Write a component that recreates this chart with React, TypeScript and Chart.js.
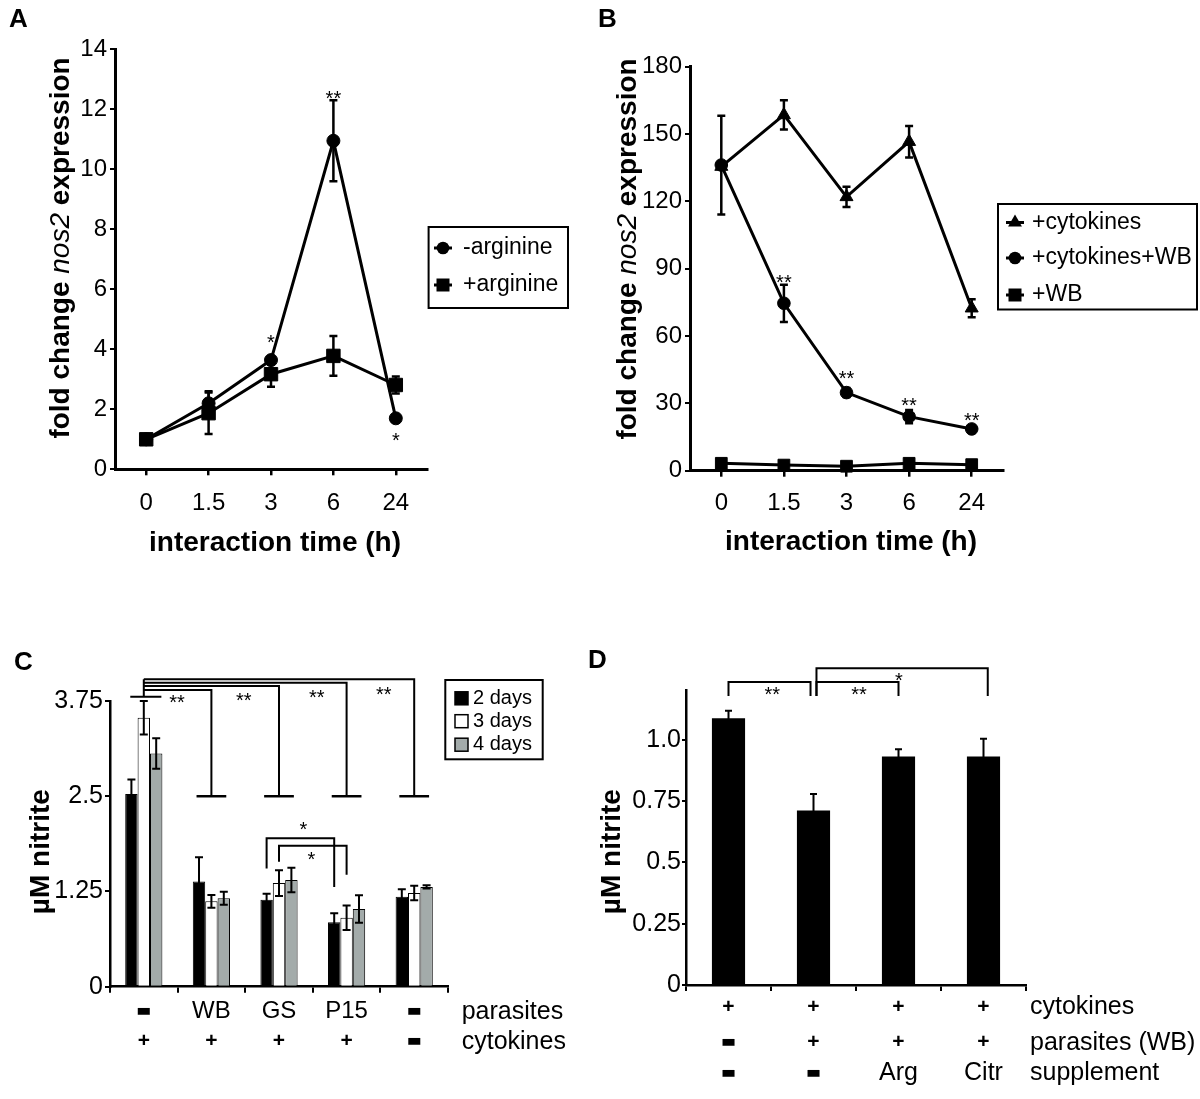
import React, { useEffect, useRef } from 'react';
import { Chart, registerables } from 'chart.js';

Chart.register(...registerables);

const FONT = '"Liberation Sans", Arial, Helvetica, sans-serif';
Chart.defaults.font.family = FONT;
Chart.defaults.color = '#000';

// ---------------- Panel A data ----------------
const timeLabels = ['0', '1.5', '3', '6', '24'];
const minusArginine = [1.0, 2.2, 3.64, 10.95, 1.7];
const minusArginineErr = [0, 0.4, 0.1, 1.35, 0.1];
const plusArginine = [1.0, 1.87, 3.17, 3.78, 2.81];
const plusArginineErr = [0, 0.69, 0.42, 0.66, 0.28];
const aStars = [
  { x: 2, y: 4.38, text: '*' },
  { x: 3, y: 12.54, text: '**' },
  { x: 4, y: 1.14, text: '*' },
];

// ---------------- Panel B data ----------------
const cytokinesOnly = [135.5, 158.5, 122, 146.6, 72.4];
const cytokinesOnlyErr = [0, 6.5, 4.5, 7, 4];
const cytokinesWB = [136.2, 74.6, 34.8, 24.1, 18.6];
const cytokinesWBErr = [22, 8.3, 2, 3, 1.5];
const wbOnly = [3.3, 2.5, 2.0, 3.3, 2.7];
const bStars = [
  { x: 1, y: 86.3, text: '**' },
  { x: 2, y: 43.5, text: '**' },
  { x: 3, y: 31.5, text: '**' },
  { x: 4, y: 24.8, text: '**' },
];

// ---------------- Panel C data ----------------
const cParasites = ['-', 'WB', 'GS', 'P15', '-'];
const cCytokines = ['+', '+', '+', '+', '-'];
const cRowNames = ['parasites', 'cytokines'];
const day2 = [2.53, 1.38, 1.14, 0.845, 1.18];
const day2Err = [0.19, 0.32, 0.08, 0.12, 0.1];
const day3 = [3.53, 1.12, 1.36, 0.905, 1.23];
const day3Err = [0.22, 0.085, 0.17, 0.16, 0.095];
const day4 = [3.06, 1.16, 1.4, 1.02, 1.31];
const day4Err = [0.2, 0.085, 0.16, 0.18, 0.02];
const cCompareTargets = [1, 2, 3, 4];
const cCompareLevels = [3.894, 3.946, 3.99, 4.034];
const cCompareCapValue = 2.5;
const cRootLevel = 3.806;
const cCompareStars = [
  { x: 0.49, y: 3.79 },
  { x: 1.48, y: 3.82 },
  { x: 2.56, y: 3.86 },
  { x: 3.55, y: 3.9 },
];
const cStarBrackets = [
  { fromDs: 0, fromIdx: 2, toDs: 0, toIdx: 3, level: 1.95, dropFrom: 1.55, dropTo: 1.31, starX: 2.36, starY: 2.135 },
  { fromDs: 1, fromIdx: 2, toDs: 1, toIdx: 3, level: 1.85, dropFrom: 1.64, dropTo: 1.47, starX: 2.48, starY: 1.73 },
];

// ---------------- Panel D data ----------------
const dCytokines = ['+', '+', '+', '+'];
const dParasites = ['-', '+', '+', '+'];
const dSupplement = ['-', '-', 'Arg', 'Citr'];
const dRowNames = ['cytokines', 'parasites (WB)', 'supplement'];
const dNitrite = [1.088, 0.712, 0.932, 0.932];
const dNitriteErr = [0.03, 0.067, 0.029, 0.072];
const dBrackets = [
  { x1: 0, x2: 0.965, level: 1.235, drop: 1.178, text: '**', sx: 0.515, sy: 1.205 },
  { x1: 1.035, x2: 2, level: 1.235, drop: 1.178, text: '**', sx: 1.535, sy: 1.205 },
  { x1: 1.035, x2: 3.05, level: 1.292, drop: 1.178, text: '*', sx: 2.005, sy: 1.262 },
];

// ---------------- helpers ----------------
const errorBars = {
  id: 'errorBars',
  afterDatasetsDraw(chart: any) {
    const ctx = chart.ctx;
    const ys = chart.scales.y;
    chart.data.datasets.forEach((ds: any, di: number) => {
      if (!ds.errors) return;
      const meta = chart.getDatasetMeta(di);
      const cap = ds.errorCap ?? 4;
      ctx.save();
      ctx.strokeStyle = '#000';
      ctx.lineWidth = ds.errorLineWidth ?? 2;
      meta.data.forEach((el: any, i: number) => {
        const e = ds.errors[i];
        if (!e) return;
        const v = ds.data[i];
        const t = ys.getPixelForValue(v + e);
        const b = ys.getPixelForValue(v - e);
        ctx.beginPath();
        ctx.moveTo(el.x, t);
        ctx.lineTo(el.x, b);
        ctx.moveTo(el.x - cap, t);
        ctx.lineTo(el.x + cap, t);
        ctx.moveTo(el.x - cap, b);
        ctx.lineTo(el.x + cap, b);
        ctx.stroke();
      });
      ctx.restore();
    });
  },
};

function drawStar(ctx: any, text: string, x: number, yc: number) {
  ctx.save();
  ctx.fillStyle = '#000';
  ctx.font = `20px ${FONT}`;
  ctx.textAlign = 'center';
  ctx.textBaseline = 'alphabetic';
  ctx.fillText(text, x, yc + 11.5);
  ctx.restore();
}

function drawText(ctx: any, text: string, x: number, y: number, font: string, align = 'center') {
  ctx.save();
  ctx.fillStyle = '#000';
  ctx.font = font;
  ctx.textAlign = align;
  ctx.textBaseline = 'middle';
  ctx.fillText(text, x, y);
  ctx.restore();
}

function drawParts(ctx: any, parts: { text: string; font: string }[], cx: number, cy: number, rotate: boolean) {
  ctx.save();
  ctx.fillStyle = '#000';
  ctx.translate(cx, cy);
  if (rotate) ctx.rotate(-Math.PI / 2);
  let total = 0;
  parts.forEach((p) => {
    ctx.font = p.font;
    total += ctx.measureText(p.text).width;
  });
  let x = -total / 2;
  ctx.textAlign = 'left';
  ctx.textBaseline = 'middle';
  parts.forEach((p) => {
    ctx.font = p.font;
    ctx.fillText(p.text, x, 0);
    x += ctx.measureText(p.text).width;
  });
  ctx.restore();
}

function drawDash(ctx: any, x: number, y: number) {
  ctx.save();
  ctx.fillStyle = '#000';
  ctx.translate(x, y);
  ctx.scale(1, 2.6);
  ctx.font = `bold 24px ${FONT}`;
  ctx.textAlign = 'center';
  ctx.textBaseline = 'alphabetic';
  ctx.fillText('\u2212', 0, 7.9);
  ctx.restore();
}

function drawRowLabel(ctx: any, s: string, x: number, y: number) {
  if (s === '-') drawDash(ctx, x, y);
  else if (s === '+') drawText(ctx, '+', x, y, `bold 21px ${FONT}`);
  else drawText(ctx, s, x, y, `24px ${FONT}`);
}

function drawMarker(ctx: any, style: string, x: number, y: number) {
  ctx.save();
  ctx.fillStyle = '#000';
  ctx.strokeStyle = '#000';
  ctx.lineWidth = 3;
  ctx.beginPath();
  ctx.moveTo(x - 9, y);
  ctx.lineTo(x + 9, y);
  ctx.stroke();
  ctx.beginPath();
  if (style === 'circle') ctx.arc(x, y, 6.3, 0, Math.PI * 2);
  else if (style === 'rect') ctx.rect(x - 6.5, y - 6.5, 13, 13);
  else {
    const r = 8;
    ctx.moveTo(x, y - r);
    ctx.lineTo(x + r * 0.866, y + r / 2);
    ctx.lineTo(x - r * 0.866, y + r / 2);
    ctx.closePath();
  }
  ctx.fill();
  ctx.restore();
}

function drawBox(ctx: any, x1: number, y1: number, x2: number, y2: number) {
  ctx.save();
  ctx.strokeStyle = '#000';
  ctx.lineWidth = 2;
  ctx.strokeRect(x1, y1, x2 - x1, y2 - y1);
  ctx.restore();
}

function lineLegend(chart: any, box: number[], rows: number[], mx: number, tx: number) {
  const ctx = chart.ctx;
  drawBox(ctx, box[0], box[1], box[2], box[3]);
  chart.data.datasets.forEach((ds: any, i: number) => {
    drawMarker(ctx, ds.pointStyle, mx, rows[i]);
    drawText(ctx, ds.label, tx, rows[i], `23px ${FONT}`, 'left');
  });
}

const nosTitle = [
  { text: 'fold change ', font: `bold 28px ${FONT}` },
  { text: 'nos2', font: `italic 28px ${FONT}` },
  { text: ' expression', font: `bold 28px ${FONT}` },
];

const common = {
  responsive: false,
  maintainAspectRatio: false,
  animation: false,
  devicePixelRatio: 1,
  events: [],
  plugins: { legend: { display: false }, tooltip: { enabled: false } },
};

function yAxis(min: number, max: number, step: number, size: number, tl: number, pad: number, width: number, bw: number, fmt: (v: number) => string) {
  return {
    type: 'linear',
    min,
    max,
    ticks: { stepSize: step, color: '#000', font: { family: FONT, size, lineHeight: 1 }, padding: pad, includeBounds: false, callback: (v: any) => fmt(Number(v)) },
    grid: { display: true, drawOnChartArea: false, drawTicks: true, tickLength: tl, color: '#000', lineWidth: 2 },
    border: { display: true, color: '#000', width: bw },
    afterFit: (s: any) => {
      s.width = width;
    },
  };
}

function xLineAxis(pad: number) {
  return {
    type: 'category',
    offset: true,
    grid: { display: true, drawOnChartArea: false, offset: false, drawTicks: true, tickLength: 6, color: '#000', lineWidth: 2.5 },
    border: { display: true, color: '#000', width: 3 },
    ticks: { color: '#000', font: { family: FONT, size: 24, lineHeight: 1 }, padding: pad, autoSkip: false, maxRotation: 0 },
    afterFit: (s: any) => {
      s.height = 60;
    },
  };
}

function xBarAxis() {
  return {
    type: 'category',
    offset: true,
    grid: { display: true, drawOnChartArea: false, offset: true, drawTicks: true, tickLength: 6, color: '#000', lineWidth: 2 },
    border: { display: true, color: '#000', width: 2.5 },
    ticks: { display: false },
    afterFit: (s: any) => {
      s.height = 60;
    },
  };
}

const lineStyle = {
  borderColor: '#000',
  backgroundColor: '#000',
  pointBackgroundColor: '#000',
  pointBorderColor: '#000',
  borderWidth: 3,
  pointBorderWidth: 1,
  tension: 0,
  fill: false,
  clip: false,
  errorLineWidth: 2.5,
  errorCap: 4,
};

// ---------------- Panel A ----------------
function drawA(chart: any) {
  const ctx = chart.ctx;
  const xs = chart.scales.x;
  const ys = chart.scales.y;
  aStars.forEach((s) => drawStar(ctx, s.text, xs.getPixelForValue(s.x), ys.getPixelForValue(s.y)));
  drawParts(ctx, nosTitle, 61, 248, true);
  drawText(ctx, 'interaction time (h)', 275, 543, `bold 28px ${FONT}`);
  lineLegend(chart, [428.6, 227, 568, 308], [248, 285], 443, 463);
}

function makeA(): any {
  return {
    type: 'line',
    data: {
      labels: timeLabels,
      datasets: [
        { label: '-arginine', data: minusArginine, errors: minusArginineErr, pointStyle: 'circle', pointRadius: 6.5, ...lineStyle },
        { label: '+arginine', data: plusArginine, errors: plusArginineErr, pointStyle: 'rect', pointRadius: 9.5, ...lineStyle },
      ],
    },
    options: {
      ...common,
      layout: { padding: { left: 0, top: 49.3, right: 173, bottom: 30.7 } },
      scales: {
        x: xLineAxis(15.7),
        y: yAxis(0, 14, 2, 24, 5, 3, 115, 3, (v) => String(v)),
      },
    },
    plugins: [errorBars, { id: 'annotA', afterDraw: drawA }],
  };
}

// ---------------- Panel B ----------------
function drawB(chart: any) {
  const ctx = chart.ctx;
  const xs = chart.scales.x;
  const ys = chart.scales.y;
  bStars.forEach((s) => drawStar(ctx, s.text, xs.getPixelForValue(s.x), ys.getPixelForValue(s.y)));
  drawParts(ctx, nosTitle, 28, 249, true);
  drawText(ctx, 'interaction time (h)', 251, 542, `bold 28px ${FONT}`);
  lineLegend(chart, [398, 204, 597, 309.5], [222.5, 258, 295], 415, 432);
}

function makeB(): any {
  return {
    type: 'line',
    data: {
      labels: timeLabels,
      datasets: [
        { label: '+cytokines', data: cytokinesOnly, errors: cytokinesOnlyErr, pointStyle: 'triangle', pointRadius: 7.5, ...lineStyle },
        { label: '+cytokines+WB', data: cytokinesWB, errors: cytokinesWBErr, pointStyle: 'circle', pointRadius: 6.3, ...lineStyle },
        { label: '+WB', data: wbOnly, pointStyle: 'rect', pointRadius: 8.3, ...lineStyle },
      ],
    },
    options: {
      ...common,
      layout: { padding: { left: 0, top: 66.7, right: 197, bottom: 29.3 } },
      scales: {
        x: xLineAxis(14.6),
        y: yAxis(0, 180, 30, 24, 5, 3, 90, 3, (v) => String(v)),
      },
    },
    plugins: [errorBars, { id: 'annotB', afterDraw: drawB }],
  };
}

// ---------------- Panel C ----------------
function drawC(chart: any) {
  const ctx = chart.ctx;
  const xs = chart.scales.x;
  const ys = chart.scales.y;
  const X = (v: number) => xs.getPixelForValue(v);
  const Y = (v: number) => ys.getPixelForValue(v);
  ctx.save();
  ctx.strokeStyle = '#000';
  ctx.lineWidth = 2;
  const x0 = X(0);
  const topLevel = Math.max(...cCompareLevels);
  ctx.beginPath();
  ctx.moveTo(x0, Y(topLevel));
  ctx.lineTo(x0, Y(cRootLevel));
  ctx.moveTo(X(-0.2), Y(cRootLevel));
  ctx.lineTo(X(0.26), Y(cRootLevel));
  ctx.stroke();
  cCompareTargets.forEach((t, k) => {
    const L = cCompareLevels[k];
    const xt = X(t);
    ctx.beginPath();
    ctx.moveTo(x0, Y(L));
    ctx.lineTo(xt, Y(L));
    ctx.lineTo(xt, Y(cCompareCapValue));
    ctx.stroke();
    ctx.beginPath();
    ctx.lineWidth = 2.5;
    ctx.moveTo(X(t - 0.22), Y(cCompareCapValue));
    ctx.lineTo(X(t + 0.22), Y(cCompareCapValue));
    ctx.stroke();
    ctx.lineWidth = 2;
  });
  cCompareStars.forEach((s) => drawStar(ctx, '**', X(s.x), Y(s.y)));
  cStarBrackets.forEach((b) => {
    const xa = chart.getDatasetMeta(b.fromDs).data[b.fromIdx].x;
    const xb = chart.getDatasetMeta(b.toDs).data[b.toIdx].x;
    ctx.beginPath();
    ctx.moveTo(xa, Y(b.dropFrom));
    ctx.lineTo(xa, Y(b.level));
    ctx.lineTo(xb, Y(b.level));
    ctx.lineTo(xb, Y(b.dropTo));
    ctx.stroke();
    drawStar(ctx, '*', X(b.starX), Y(b.starY));
  });
  ctx.restore();

  // row labels under axis
  const rowsY = [451.7, 481.7];
  cParasites.forEach((s, i) => drawRowLabel(ctx, s, X(i), rowsY[0]));
  cCytokines.forEach((s, i) => drawRowLabel(ctx, s, X(i), rowsY[1]));
  cRowNames.forEach((s, r) => drawText(ctx, s, 461.7, rowsY[r], `25px ${FONT}`, 'left'));

  // title
  drawParts(ctx, [{ text: '\u00b5M nitrite', font: `bold 28px ${FONT}` }], 41.7, 291.7, true);

  // legend
  drawBox(ctx, 445.3, 120, 542.7, 199.3);
  const legY = [138.3, 161.2, 184.7];
  chart.data.datasets.forEach((ds: any, i: number) => {
    ctx.save();
    ctx.fillStyle = ds.backgroundColor;
    ctx.fillRect(455, legY[i] - 6.5, 13, 13);
    ctx.strokeStyle = '#000';
    ctx.lineWidth = 1.5;
    ctx.strokeRect(455, legY[i] - 6.5, 13, 13);
    ctx.restore();
    drawText(ctx, ds.label, 473, legY[i], `20px ${FONT}`, 'left');
  });
}

function makeC(): any {
  const barStyle = { borderColor: '#000', borderWidth: 1, barPercentage: 1, categoryPercentage: 0.55, errorLineWidth: 2, errorCap: 4 };
  return {
    type: 'bar',
    data: {
      labels: cParasites,
      datasets: [
        { label: '2 days', data: day2, errors: day2Err, backgroundColor: '#000000', ...barStyle },
        { label: '3 days', data: day3, errors: day3Err, backgroundColor: '#ffffff', ...barStyle },
        { label: '4 days', data: day4, errors: day4Err, backgroundColor: '#a3abaa', ...barStyle },
      ],
    },
    options: {
      ...common,
      layout: { padding: { left: 0, top: 141, right: 152, bottom: 52.3 } },
      scales: {
        x: xBarAxis(),
        y: yAxis(0, 3.75, 1.25, 25, 5, 2, 110, 2.5, (v) => String(v)),
      },
    },
    plugins: [errorBars, { id: 'annotC', afterDraw: drawC }],
  };
}

// ---------------- Panel D ----------------
function drawD(chart: any) {
  const ctx = chart.ctx;
  const xs = chart.scales.x;
  const ys = chart.scales.y;
  const X = (v: number) => xs.getPixelForValue(v);
  const Y = (v: number) => ys.getPixelForValue(v);
  ctx.save();
  ctx.strokeStyle = '#000';
  ctx.lineWidth = 2;
  dBrackets.forEach((b) => {
    ctx.beginPath();
    ctx.moveTo(X(b.x1), Y(b.drop));
    ctx.lineTo(X(b.x1), Y(b.level));
    ctx.lineTo(X(b.x2), Y(b.level));
    ctx.lineTo(X(b.x2), Y(b.drop));
    ctx.stroke();
    drawStar(ctx, b.text, X(b.sx), Y(b.sy));
  });
  ctx.restore();

  const rowsY = [447.3, 482.7, 513.3];
  dCytokines.forEach((s, i) => drawRowLabel(ctx, s, X(i), rowsY[0]));
  dParasites.forEach((s, i) => drawRowLabel(ctx, s, X(i), rowsY[1]));
  dSupplement.forEach((s, i) => (s === '-' || s === '+' ? drawRowLabel(ctx, s, X(i), rowsY[2]) : drawText(ctx, s, X(i), rowsY[2], `25px ${FONT}`)));
  dRowNames.forEach((s, r) => drawText(ctx, s, 430, rowsY[r], `25px ${FONT}`, 'left'));

  drawParts(ctx, [{ text: '\u00b5M nitrite', font: `bold 28px ${FONT}` }], 12.5, 291.7, true);
}

function makeD(): any {
  return {
    type: 'bar',
    data: {
      labels: dSupplement,
      datasets: [
        { label: 'nitrite', data: dNitrite, errors: dNitriteErr, backgroundColor: '#000', borderWidth: 0, barPercentage: 1, categoryPercentage: 0.39, errorLineWidth: 2, errorCap: 3.5 },
      ],
    },
    options: {
      ...common,
      layout: { padding: { left: 0, top: 130.7, right: 174, bottom: 54 } },
      scales: {
        x: xBarAxis(),
        y: yAxis(0, 1.2, 0.25, 25, 4, 1, 86, 2.5, (v) => (v === 1 ? '1.0' : String(v))),
      },
    },
    plugins: [errorBars, { id: 'annotD', afterDraw: drawD }],
  };
}

// ---------------- components ----------------
function ChartCanvas({ left, top, width, height, make }: { left: number; top: number; width: number; height: number; make: () => any }) {
  const ref = useRef<HTMLCanvasElement | null>(null);
  useEffect(() => {
    const chart = new Chart(ref.current as HTMLCanvasElement, make());
    return () => chart.destroy();
  }, []);
  return <canvas ref={ref} width={width} height={height} style={{ position: 'absolute', left, top, width, height }} />;
}

const panelLetters = [
  { t: 'A', x: 9, base: 27 },
  { t: 'B', x: 598, base: 27 },
  { t: 'C', x: 14, base: 670 },
  { t: 'D', x: 588, base: 668 },
];

export default function App() {
  return (
    <div style={{ position: 'absolute', left: 0, top: 0, width: 1200, height: 1099, background: '#fff', overflow: 'hidden' }}>
      <ChartCanvas left={0} top={0} width={600} height={560} make={makeA} />
      <ChartCanvas left={600} top={0} width={600} height={560} make={makeB} />
      <ChartCanvas left={0} top={560} width={600} height={539} make={makeC} />
      <ChartCanvas left={600} top={560} width={600} height={539} make={makeD} />
      {panelLetters.map((p) => (
        <div
          key={p.t}
          style={{ position: 'absolute', left: p.x, top: p.base - 22, font: `bold 26px ${FONT}`, lineHeight: '26px', color: '#000', zIndex: 2 }}
        >
          {p.t}
        </div>
      ))}
    </div>
  );
}
